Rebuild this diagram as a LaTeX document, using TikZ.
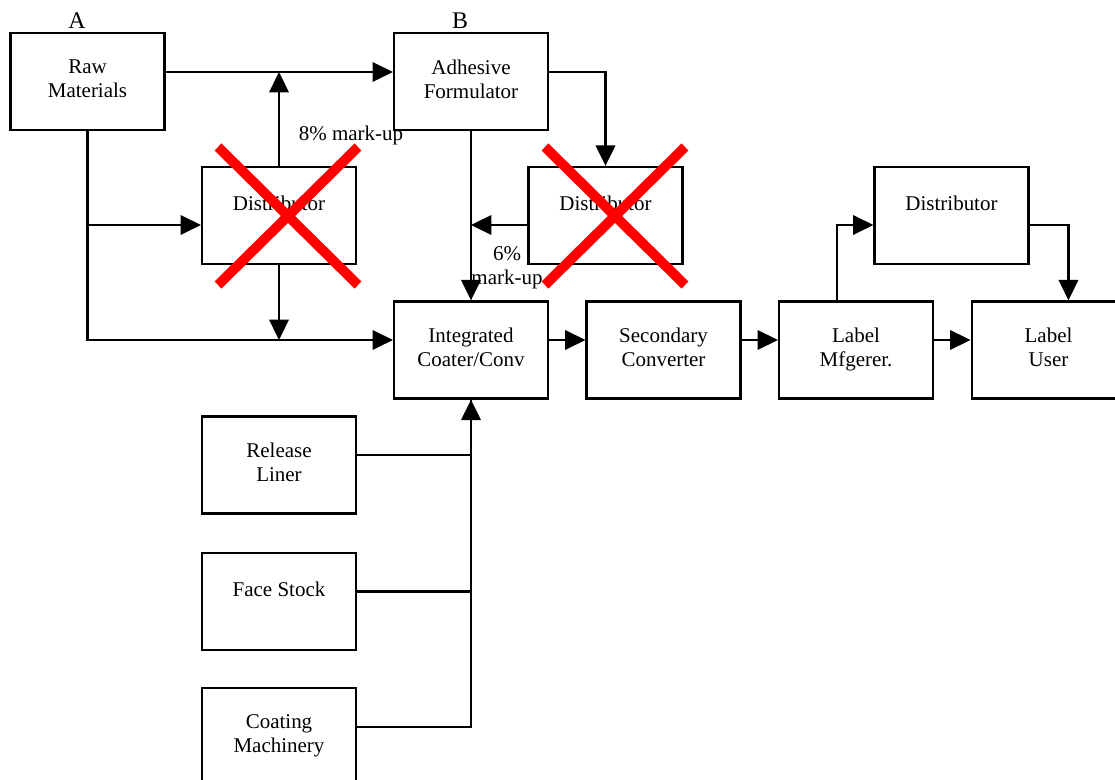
\documentclass[tikz,border=0pt]{standalone}
\usepackage{fontspec}
\setmainfont{Liberation Serif}
\usetikzlibrary{arrows.meta, positioning, calc}

\begin{document}
\begin{tikzpicture}[
    x=0.0206cm, y=-0.0206cm,
    node distance=0.78cm,
    font=\fontsize{12.3}{14}\selectfont,
    box/.style={rectangle, draw, line width=1.3pt, minimum width=3.17cm, minimum height=2cm},
    boxtext/.style={anchor=north, align=center, yshift=-0.5cm, inner sep=2pt, execute at begin node=\strut},
    arrow/.style={-{Triangle[length=0.42cm, width=0.4cm]}, line width=1.3pt},
    line/.style={line width=1.3pt},
    cross/.style={red, line width=5.8pt}
]
\useasboundingbox (0,0) rectangle (1115,780);
\clip (0,0) rectangle (1115,780);

% Suppliers
\node[box, label={[boxtext]north:Raw\\Materials}] (raw) at (87.5,81.5) {};
\node[box, label={[boxtext]north:Adhesive\\Formulator}] (adh) at (471,81.5) {};
\node[font=\fontsize{14}{16}\selectfont] (lbla) at (77,21) {A};
\node[font=\fontsize{14}{16}\selectfont] (lblb) at (460,21) {B};

% Distributors
\node[box, label={[boxtext]north:Distributor}] (dista) at (279,215.5) {};
\node[box, label={[boxtext]north:Distributor}] (distb) at (605.5,215.5) {};
\node[box, label={[boxtext]north:Distributor}] (distc) at (951.5,215.5) {};

% Converting chain
\node[box, label={[boxtext]north:Integrated\\Coater/Conv}] (icc) at (471,350) {};
\node[box, right=0.75cm of icc, label={[boxtext]north:Secondary\\Converter}] (sec) {};
\node[box, right=0.75cm of sec, label={[boxtext]north:Label\\Mfgerer.}] (lmf) {};
\node[box, right=0.75cm of lmf, label={[boxtext]north:Label\\User}] (lus) {};

% Materials for the coater
\node[box, label={[boxtext]north:Release\\Liner}] (rel) at (279,465) {};
\node[box, below=0.76cm of rel, label={[boxtext]north:Face Stock}] (face) {};
\node[box, below=0.74cm of face, label={[boxtext]north:Coating\\Machinery}] (coat) {};

% Mark-ups
\node (mkup8) at (351,135) {8\% mark-up};
\node[align=center] (mkup6) at (507,268) {6\%\\mark-up};

% Levels
\coordinate (ytop) at (0,72);
\coordinate (ymid) at (0,225);
\coordinate (ylow) at (0,340);

% Arrows
\draw[arrow] (raw.east |- ytop) -- (adh.west |- ytop);
\draw[arrow] (dista.north) -- (dista.north |- ytop);
\draw[arrow] (raw.south) |- (icc.west |- ylow);
\draw[arrow] (raw.south |- ymid) -- (dista.west |- ymid);
\draw[arrow] (dista.south) -- (dista.south |- ylow);
\draw[arrow] (adh.east |- ytop) -| (distb.north);
\draw[arrow] (adh.south) -- (icc.north);
\draw[arrow] (distb.west |- ymid) -- (adh.south |- ymid);
\draw[arrow] (icc.east |- ylow) -- (sec.west |- ylow);
\draw[arrow] (sec.east |- ylow) -- (lmf.west |- ylow);
\draw[arrow] (lmf.east |- ylow) -- (lus.west |- ylow);
\draw[arrow] ([xshift=-0.39cm]lmf.north) |- (distc.west |- ymid);
\draw[arrow] (distc.east |- ymid) -| ([xshift=0.41cm]lus.north);
\draw[line] ([yshift=0.2cm]rel.east) -| (icc.south);
\draw[line] ([yshift=0.2cm]face.east) -| (icc.south);
\draw[arrow] ([yshift=0.2cm]coat.east) -| (icc.south);

% Removed distributors
\draw[cross] (218,147) -- (358,285);
\draw[cross] (358,147) -- (218,285);
\draw[cross] (545,147) -- (685,285);
\draw[cross] (685,147) -- (545,285);

\end{tikzpicture}
\end{document}
